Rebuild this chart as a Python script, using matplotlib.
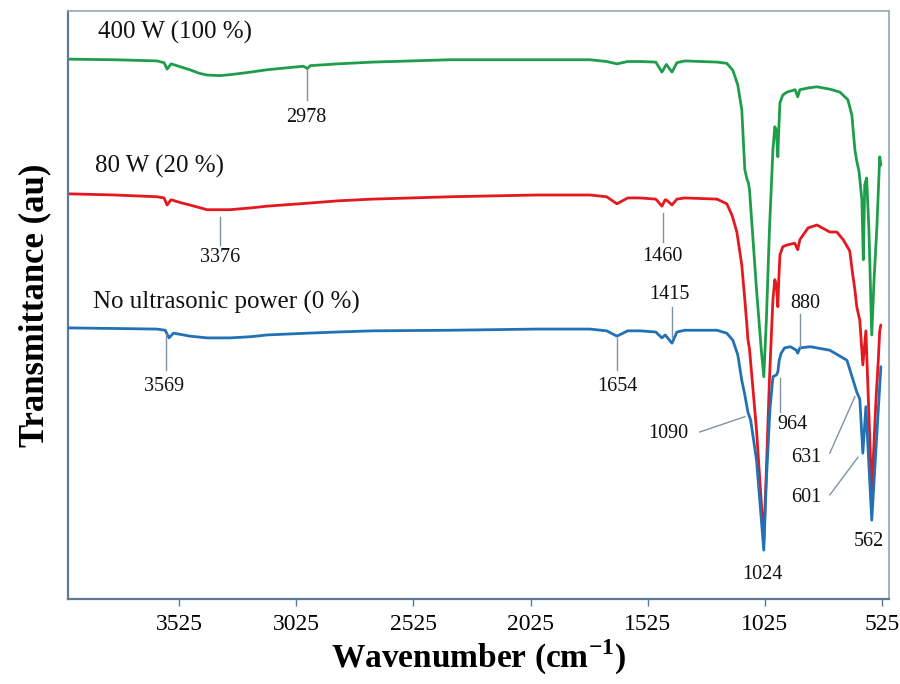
import numpy as np
import matplotlib
matplotlib.use("Agg")
import matplotlib.pyplot as plt

plt.rcParams['font.family'] = ['Liberation Serif', 'DejaVu Serif']
plt.rcParams['mathtext.fontset'] = 'custom'
plt.rcParams['mathtext.rm'] = 'Liberation Serif'
plt.rcParams['mathtext.bf'] = 'Liberation Serif:bold'

# 400 W (100 %)
wn_green = [4000, 3800, 3620, 3590, 3577, 3560, 3520, 3480, 3440, 3406, 3350, 3300, 3220, 3150, 2995, 2978,
            2965, 2850, 2700, 2369, 2000, 1771, 1700, 1656, 1610, 1558, 1490, 1464, 1445, 1421, 1400, 1366,
            1229, 1187, 1161, 1140, 1123, 1110, 1100, 1095, 1090, 1060, 1040, 1029, 1018, 1005, 990, 982,
            976, 969, 965, 960, 948, 930, 895, 884, 875, 840, 802, 747, 704, 670, 653, 640, 633, 630, 622,
            610, 604, 598, 590, 580, 568, 558, 546, 534, 529]
t_green = [91.8, 91.7, 91.5, 91.2, 90.1, 91.0, 90.5, 90.0, 89.4, 89.1, 89.0, 89.2, 89.6, 90.0, 90.6, 90.2,
           90.7, 91.0, 91.3, 91.7, 91.7, 91.7, 91.4, 91.0, 91.4, 91.4, 91.3, 89.6, 90.9, 89.6, 91.2, 91.5,
           91.3, 91.1, 89.9, 87.4, 83.2, 73.0, 71.3, 70.8, 69.6, 52.6, 42.5, 37.8, 47.4, 62.6, 76.4, 80.3,
           79.8, 75.2, 79.8, 84.4, 85.7, 86.2, 86.6, 85.4, 86.6, 86.9, 87.1, 86.7, 86.2, 84.9, 82.3, 76.4,
           74.7, 74.1, 72.6, 67.8, 57.7, 70.4, 71.6, 62.8, 44.9, 54.4, 63.3, 75.2, 73.8]

# 80 W (20 %)
wn_red = [4000, 3800, 3620, 3590, 3577, 3560, 3520, 3480, 3406, 3308, 3220, 3150, 2979, 2850, 2700, 2369,
          2000, 1771, 1700, 1656, 1610, 1558, 1490, 1464, 1450, 1440, 1421, 1400, 1366, 1229, 1187, 1165,
          1144, 1123, 1110, 1100, 1097, 1090, 1060, 1029, 1018, 1005, 990, 982, 975, 969, 965, 960, 948,
          930, 897, 884, 875, 840, 802, 747, 717, 690, 662, 649, 640, 632, 619, 606, 593, 568, 550, 540,
          534, 529]
t_red = [68.9, 68.7, 68.4, 68.2, 67.0, 67.9, 67.4, 67.0, 66.2, 66.2, 66.5, 66.8, 67.3, 67.7, 68.0, 68.4,
         68.7, 68.7, 68.4, 67.2, 68.2, 68.2, 68.0, 66.8, 67.9, 67.7, 67.0, 68.0, 68.2, 68.0, 67.2, 65.3,
         62.4, 56.8, 50.9, 46.0, 44.2, 42.5, 28.7, 10.0, 21.9, 37.2, 50.9, 54.3, 53.4, 49.7, 54.3, 58.5,
         59.9, 60.2, 60.5, 59.4, 61.1, 63.1, 63.6, 62.4, 62.4, 61.1, 59.2, 55.1, 52.6, 49.7, 47.4, 39.8,
         45.6, 18.0, 33.8, 40.6, 45.6, 46.6]

# No ultrasonic power (0 %)
wn_blue = [4000, 3800, 3620, 3585, 3569, 3550, 3520, 3480, 3406, 3308, 3220, 3150, 2979, 2850, 2700, 2369,
           2000, 1771, 1700, 1656, 1610, 1558, 1490, 1464, 1450, 1421, 1400, 1366, 1229, 1187, 1161, 1140,
           1123, 1110, 1097, 1085, 1060, 1029, 1018, 1003, 990, 975, 969, 963, 955, 940, 915, 890, 884,
           875, 830, 747, 674, 649, 632, 619, 606, 593, 568, 546, 529]
t_blue = [46.1, 46.0, 45.9, 45.7, 44.4, 45.2, 45.0, 44.7, 44.4, 44.4, 44.6, 44.9, 45.2, 45.4, 45.6, 45.7,
          45.9, 45.9, 45.6, 44.7, 45.6, 45.6, 45.4, 44.4, 44.9, 43.5, 45.4, 45.7, 45.7, 45.2, 44.0, 41.5,
          37.2, 34.7, 31.8, 30.4, 23.6, 8.3, 20.2, 32.1, 37.8, 38.1, 38.6, 40.6, 41.8, 42.7, 42.9, 42.3,
          41.8, 42.7, 42.9, 42.3, 40.6, 37.4, 35.2, 34.0, 24.8, 32.7, 13.4, 28.2, 39.5]

series_labels = ['400 W (100 %)', '80 W (20 %)', 'No ultrasonic power (0 %)']
series_label_pos = [(3871, 96.3), (3884, 73.5), (3893, 50.5)]

# peak label, text position, leader line (x0, y0, x1, y1) or None
peak_labels = ['2978', '3376', '3569', '1460', '1415', '1654', '880', '1090', '964', '631', '601', '562', '1024']
peak_text_pos = [(2983, 81.9), (3350, 58.0), (3589, 36.1), (1460, 58.2), (1430, 51.7), (1656, 36.1),
                 (854, 50.3), (1438, 28.2), (905, 29.6), (849, 24.0), (849, 17.2), (580, 9.7), (1033, 4.1)]
peak_lines = [(2979, 90.0, 2979, 84.9), (3350, 65.0, 3350, 60.2), (3581, 45.1, 3581, 38.9),
              (1460, 65.6, 1460, 60.7), (1421, 44.6, 1421, 49.7), (1656, 44.4, 1656, 38.9),
              (875, 42.9, 875, 48.5), (1302, 28.4, 1110, 31.0), (960, 37.6, 960, 31.8),
              (747, 24.8, 640, 34.4), (747, 17.7, 627, 24.1), None, None]

x_ticks = [3525, 3025, 2525, 2025, 1525, 1025, 525]

fig = plt.figure(figsize=(9, 6.84), dpi=100)
ax = fig.add_axes([0.0756, 0.1243, 0.912, 0.8597])

lw = 2.0
style = dict(lw=lw, solid_joinstyle='round', solid_capstyle='round')
ax.plot(wn_blue, t_blue, color='#2271b5', zorder=3, **style)
ax.plot(wn_red, t_red, color='#e3191f', zorder=2, **style)
ax.plot(wn_green, t_green, color='#1e9e4b', zorder=1, **style)

for lab, (x, y) in zip(series_labels, series_label_pos):
    ax.text(x, y, lab, fontsize=18, ha='left', va='center', color='#111111')

lead_col = '#7f93a6'
for lab, (tx, ty), ln in zip(peak_labels, peak_text_pos, peak_lines):
    if ln is not None:
        ax.plot([ln[0], ln[2]], [ln[1], ln[3]], color=lead_col, lw=1.0, zorder=4)
    ax.text(tx, ty, lab, fontsize=14.5, ha='center', va='center', color='#111111')

ax.set_xlim(4000, 495)
ax.set_ylim(0, 100)
ax.set_xticks(x_ticks)
ax.set_xticklabels([str(v) for v in x_ticks])
ax.set_yticks([])
ax.tick_params(axis='x', direction='out', length=5, width=1, color='#5d7b95', labelsize=17, pad=6)

for side in ['left', 'bottom']:
    ax.spines[side].set_color('#5d7b95')
    ax.spines[side].set_linewidth(1.6)
for side in ['top', 'right']:
    ax.spines[side].set_color('#93a5b5')
    ax.spines[side].set_linewidth(1.2)

ax.set_xlabel('Wavenumber (cm$^{\\mathbf{-1}}$)', fontsize=24, fontweight='bold', labelpad=2)
ax.set_ylabel('Transmittance (au)', fontsize=25, fontweight='bold', labelpad=12)

fig.savefig('out.png', dpi=100)
